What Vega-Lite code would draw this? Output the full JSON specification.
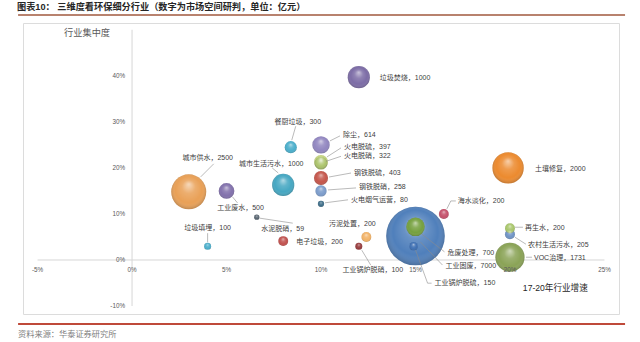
{
  "$schema": "https://vega.github.io/schema/vega-lite/v6.json",
  "width": 596,
  "height": 291,
  "autosize": {"type": "none"},
  "padding": {"left": 23, "top": 23, "right": 21, "bottom": 28},
  "background": "white",
  "config": {
    "view": {"stroke": "#dcdcdc", "strokeWidth": 1},
    "text": {"font": "Liberation Sans, Noto Sans CJK SC", "fontSize": 7, "color": "#404040", "baseline": "middle"}
  },
  "datasets": {
    "bubbles": [
      {"name": "垃圾焚烧", "g": 12.0, "c": 39.7, "v": 1000},
      {"name": "土壤修复", "g": 19.9, "c": 20.0, "v": 2000},
      {"name": "城市供水", "g": 3.0, "c": 14.8, "v": 2500},
      {"name": "工业废水", "g": 5.0, "c": 15.0, "v": 500},
      {"name": "城市生活污水", "g": 8.0, "c": 16.3, "v": 1000},
      {"name": "餐厨垃圾", "g": 8.4, "c": 24.5, "v": 300},
      {"name": "除尘", "g": 10.0, "c": 25.0, "v": 614},
      {"name": "火电脱硫", "g": 10.0, "c": 21.3, "v": 397},
      {"name": "火电脱硝", "g": 10.0, "c": 21.0, "v": 322},
      {"name": "钢铁脱硫", "g": 10.0, "c": 17.8, "v": 403},
      {"name": "钢铁脱硝", "g": 10.0, "c": 15.0, "v": 258},
      {"name": "火电烟气运营", "g": 10.0, "c": 12.2, "v": 80},
      {"name": "垃圾填埋", "g": 4.0, "c": 3.0, "v": 100},
      {"name": "水泥脱硝", "g": 6.6, "c": 9.3, "v": 59},
      {"name": "电子垃圾", "g": 8.0, "c": 4.1, "v": 200},
      {"name": "污泥处置", "g": 12.4, "c": 5.0, "v": 200},
      {"name": "工业锅炉脱硝", "g": 12.0, "c": 3.0, "v": 100},
      {"name": "工业固废", "g": 15.0, "c": 5.2, "v": 7000},
      {"name": "危废处理", "g": 15.0, "c": 7.2, "v": 700},
      {"name": "工业锅炉脱硫", "g": 14.9, "c": 3.0, "v": 150},
      {"name": "海水淡化", "g": 16.5, "c": 10.0, "v": 200},
      {"name": "再生水", "g": 20.0, "c": 6.9, "v": 200},
      {"name": "农村生活污水", "g": 20.0, "c": 5.6, "v": 205},
      {"name": "VOC治理", "g": 20.0, "c": 0.6, "v": 1731}
    ],
    "xticks": [{"t": -5}, {"t": 0}, {"t": 5}, {"t": 10}, {"t": 15}, {"t": 20}, {"t": 25}],
    "yticks": [{"t": -10}, {"t": 0}, {"t": 10}, {"t": 20}, {"t": 30}, {"t": 40}]
  },
  "layer": [
    {
      "data": {"values": [{}]},
      "mark": {"type": "text", "align": "left", "fontSize": 9.2, "fontWeight": "bold", "color": "#262626"},
      "encoding": {
        "x": {"datum": -6.09, "type": "quantitative", "scale": {"domain": [-5.77, 25.77], "nice": false, "zero": false}, "axis": null},
        "y": {"datum": 54.84, "type": "quantitative", "scale": {"domain": [-11.73, 51.47], "nice": false, "zero": false}, "axis": null},
        "text": {"value": "图表10：  三维度看环保细分行业（数字为市场空间研判，单位：亿元）"}
      }
    },
    {
      "data": {"values": [{}]},
      "mark": {"type": "rule", "color": "#a0583e", "strokeWidth": 1.5},
      "encoding": {
        "x": {"datum": -6.03, "type": "quantitative", "scale": {"domain": [-5.77, 25.77], "nice": false, "zero": false}, "axis": null},
        "x2": {"datum": 26.09},
        "y": {"datum": 53.21, "type": "quantitative", "scale": {"domain": [-11.73, 51.47], "nice": false, "zero": false}, "axis": null}
      }
    },
    {
      "data": {"values": [{}]},
      "mark": {"type": "rule", "color": "#bf4a3a", "strokeWidth": 2.2},
      "encoding": {
        "x": {"datum": -6.03, "type": "quantitative", "scale": {"domain": [-5.77, 25.77], "nice": false, "zero": false}, "axis": null},
        "x2": {"datum": 26.09},
        "y": {"datum": -13.9, "type": "quantitative", "scale": {"domain": [-11.73, 51.47], "nice": false, "zero": false}, "axis": null}
      }
    },
    {
      "data": {"values": [{}]},
      "mark": {"type": "text", "align": "left", "fontSize": 8.2, "color": "#808080"},
      "encoding": {
        "x": {"datum": -6.03, "type": "quantitative", "scale": {"domain": [-5.77, 25.77], "nice": false, "zero": false}, "axis": null},
        "y": {"datum": -16.3, "type": "quantitative", "scale": {"domain": [-11.73, 51.47], "nice": false, "zero": false}, "axis": null},
        "text": {"value": "资料来源：华泰证券研究所"}
      }
    },
    {
      "data": {"values": [{}]},
      "mark": {"type": "rule", "color": "#d6d6d6", "strokeWidth": 1},
      "encoding": {
        "x": {"datum": -5, "type": "quantitative", "scale": {"domain": [-5.77, 25.77], "nice": false, "zero": false}, "axis": null},
        "x2": {"datum": 25},
        "y": {"datum": 0, "type": "quantitative", "scale": {"domain": [-11.73, 51.47], "nice": false, "zero": false}, "axis": null}
      }
    },
    {
      "data": {"values": [{}]},
      "mark": {"type": "rule", "color": "#d6d6d6", "strokeWidth": 1},
      "encoding": {
        "x": {"datum": 0, "type": "quantitative", "scale": {"domain": [-5.77, 25.77], "nice": false, "zero": false}, "axis": null},
        "y": {"datum": -10, "type": "quantitative", "scale": {"domain": [-11.73, 51.47], "nice": false, "zero": false}, "axis": null},
        "y2": {"datum": 50}
      }
    },
    {
      "data": {"name": "bubbles"},
      "transform": [{"calculate": "datum.name + '，' + datum.v", "as": "label"}],
      "encoding": {
        "x": {"field": "g", "type": "quantitative", "scale": {"domain": [-5.77, 25.77], "nice": false, "zero": false}, "axis": null},
        "y": {"field": "c", "type": "quantitative", "scale": {"domain": [-11.73, 51.47], "nice": false, "zero": false}, "axis": null}
      },
      "layer": [
        {
          "transform": [{"filter": "datum.v >= 1000"}],
          "encoding": {
            "size": {"field": "v", "type": "quantitative", "scale": {"type": "linear", "domain": [0, 7000], "range": [0, 3436], "zero": true}, "legend": null},
            "order": {"field": "v", "type": "quantitative", "sort": "descending"}
          },
          "layer": [
            {
              "mark": {"type": "point", "filled": true, "opacity": 1, "strokeWidth": 0},
              "encoding": {
                "color": {"field": "name", "type": "nominal", "legend": null,
                  "scale": {
                    "domain": ["垃圾焚烧", "土壤修复", "城市供水", "工业废水", "城市生活污水", "餐厨垃圾", "除尘", "火电脱硫", "火电脱硝", "钢铁脱硫", "钢铁脱硝", "火电烟气运营", "垃圾填埋", "水泥脱硝", "电子垃圾", "污泥处置", "工业锅炉脱硝", "工业固废", "危废处理", "工业锅炉脱硫", "海水淡化", "再生水", "农村生活污水", "VOC治理"],
                    "range": ["#7c6ca6", "#ec8a2e", "#e9a056", "#8170ab", "#45a7c2", "#4aaecb", "#9186c0", "#c3d27e", "#a9c266", "#c4554a", "#7b9ccb", "#3d6d88", "#4aaecb", "#56636f", "#c0504d", "#f2b266", "#963a3c", "#4f7fbb", "#75a03e", "#3c6eb2", "#c4506a", "#a8c66a", "#6f93c4", "#8aa356"]
                  }
                }
              }
            },
            {
              "mark": {"type": "point", "filled": true, "opacity": 1, "strokeWidth": 0,
                "fill": {"gradient": "radial", "x1": 0.5, "y1": 0.28, "r1": 0, "x2": 0.5, "y2": 0.5, "r2": 0.55,
                  "stops": [
                    {"offset": 0, "color": "rgba(255,255,255,0.6)"},
                    {"offset": 0.35, "color": "rgba(255,255,255,0.15)"},
                    {"offset": 0.7, "color": "rgba(255,255,255,0)"},
                    {"offset": 1, "color": "rgba(0,0,0,0.3)"}
                  ]}
              }
            }
          ]
        },
        {
          "transform": [{"filter": "datum.v < 1000"}],
          "encoding": {
            "size": {"field": "v", "type": "quantitative", "scale": {"type": "linear", "domain": [0, 7000], "range": [0, 3436], "zero": true}, "legend": null},
            "order": {"field": "v", "type": "quantitative", "sort": "descending"}
          },
          "layer": [
            {
              "mark": {"type": "point", "filled": true, "opacity": 1, "strokeWidth": 0},
              "encoding": {
                "color": {"field": "name", "type": "nominal", "legend": null}
              }
            },
            {
              "mark": {"type": "point", "filled": true, "opacity": 1, "strokeWidth": 0,
                "fill": {"gradient": "radial", "x1": 0.5, "y1": 0.28, "r1": 0, "x2": 0.5, "y2": 0.5, "r2": 0.55,
                  "stops": [
                    {"offset": 0, "color": "rgba(255,255,255,0.6)"},
                    {"offset": 0.35, "color": "rgba(255,255,255,0.15)"},
                    {"offset": 0.7, "color": "rgba(255,255,255,0)"},
                    {"offset": 1, "color": "rgba(0,0,0,0.3)"}
                  ]}
              }
            }
          ]
        },
        {"transform": [{"filter": "datum.name === '垃圾焚烧'"}], "mark": {"type": "text", "align": "left", "dx": 21, "dy": 1}, "encoding": {"text": {"field": "label", "type": "nominal"}}},
        {"transform": [{"filter": "datum.name === '土壤修复'"}], "mark": {"type": "text", "align": "left", "dx": 27, "dy": 1}, "encoding": {"text": {"field": "label", "type": "nominal"}}},
        {"transform": [{"filter": "datum.name === '电子垃圾'"}], "mark": {"type": "text", "align": "left", "dx": 13, "dy": 1}, "encoding": {"text": {"field": "label", "type": "nominal"}}},
        {"transform": [{"filter": "datum.name === '污泥处置'"}], "mark": {"type": "text", "align": "center", "dx": -14, "dy": -13}, "encoding": {"text": {"field": "label", "type": "nominal"}}},
        {"transform": [{"filter": "datum.name === '城市供水'"}], "layer": [
          {"mark": {"type": "text", "align": "center", "dx": 19, "dy": -34}, "encoding": {"text": {"field": "label", "type": "nominal"}}},
          {"mark": {"type": "point", "shape": "M12,-15L25,-28", "size": 4, "filled": false, "opacity": 1, "color": "#8c8c8c", "strokeWidth": 0.6}}
        ]},
        {"transform": [{"filter": "datum.name === '工业废水'"}], "layer": [
          {"mark": {"type": "text", "align": "center", "dx": 14, "dy": 17}, "encoding": {"text": {"field": "label", "type": "nominal"}}},
          {"mark": {"type": "point", "shape": "M6,6L11,12", "size": 4, "filled": false, "opacity": 1, "color": "#8c8c8c", "strokeWidth": 0.6}}
        ]},
        {"transform": [{"filter": "datum.name === '城市生活污水'"}], "layer": [
          {"mark": {"type": "text", "align": "center", "dx": -12, "dy": -21}, "encoding": {"text": {"field": "label", "type": "nominal"}}},
          {"mark": {"type": "point", "shape": "M-5,-12L-11,-17", "size": 4, "filled": false, "opacity": 1, "color": "#8c8c8c", "strokeWidth": 0.6}}
        ]},
        {"transform": [{"filter": "datum.name === '餐厨垃圾'"}], "layer": [
          {"mark": {"type": "text", "align": "center", "dx": 7, "dy": -25}, "encoding": {"text": {"field": "label", "type": "nominal"}}},
          {"mark": {"type": "point", "shape": "M1,-7L5,-21", "size": 4, "filled": false, "opacity": 1, "color": "#8c8c8c", "strokeWidth": 0.6}}
        ]},
        {"transform": [{"filter": "datum.name === '除尘'"}], "layer": [
          {"mark": {"type": "text", "align": "left", "dx": 22, "dy": -10}, "encoding": {"text": {"field": "label", "type": "nominal"}}},
          {"mark": {"type": "point", "shape": "M9,-4L19,-9", "size": 4, "filled": false, "opacity": 1, "color": "#8c8c8c", "strokeWidth": 0.6}}
        ]},
        {"transform": [{"filter": "datum.name === '火电脱硫'"}], "layer": [
          {"mark": {"type": "text", "align": "left", "dx": 23, "dy": -15}, "encoding": {"text": {"field": "label", "type": "nominal"}}},
          {"mark": {"type": "point", "shape": "M6,-5L20,-14", "size": 4, "filled": false, "opacity": 1, "color": "#8c8c8c", "strokeWidth": 0.6}}
        ]},
        {"transform": [{"filter": "datum.name === '火电脱硝'"}], "layer": [
          {"mark": {"type": "text", "align": "left", "dx": 23, "dy": -7}, "encoding": {"text": {"field": "label", "type": "nominal"}}},
          {"mark": {"type": "point", "shape": "M5,-2L20,-7", "size": 4, "filled": false, "opacity": 1, "color": "#8c8c8c", "strokeWidth": 0.6}}
        ]},
        {"transform": [{"filter": "datum.name === '钢铁脱硫'"}], "layer": [
          {"mark": {"type": "text", "align": "left", "dx": 33, "dy": -5}, "encoding": {"text": {"field": "label", "type": "nominal"}}},
          {"mark": {"type": "point", "shape": "M8,-1L30,-5", "size": 4, "filled": false, "opacity": 1, "color": "#8c8c8c", "strokeWidth": 0.6}}
        ]},
        {"transform": [{"filter": "datum.name === '钢铁脱硝'"}], "layer": [
          {"mark": {"type": "text", "align": "left", "dx": 38, "dy": -4}, "encoding": {"text": {"field": "label", "type": "nominal"}}},
          {"mark": {"type": "point", "shape": "M7,-1L35,-3", "size": 4, "filled": false, "opacity": 1, "color": "#8c8c8c", "strokeWidth": 0.6}}
        ]},
        {"transform": [{"filter": "datum.name === '火电烟气运营'"}], "layer": [
          {"mark": {"type": "text", "align": "left", "dx": 30, "dy": -4}, "encoding": {"text": {"field": "label", "type": "nominal"}}},
          {"mark": {"type": "point", "shape": "M4,-1L27,-4", "size": 4, "filled": false, "opacity": 1, "color": "#8c8c8c", "strokeWidth": 0.6}}
        ]},
        {"transform": [{"filter": "datum.name === '垃圾填埋'"}], "layer": [
          {"mark": {"type": "text", "align": "center", "dx": 0, "dy": -18}, "encoding": {"text": {"field": "label", "type": "nominal"}}},
          {"mark": {"type": "point", "shape": "M0,-4L0,-13", "size": 4, "filled": false, "opacity": 1, "color": "#8c8c8c", "strokeWidth": 0.6}}
        ]},
        {"transform": [{"filter": "datum.name === '水泥脱硝'"}], "layer": [
          {"mark": {"type": "text", "align": "center", "dx": 26, "dy": 12}, "encoding": {"text": {"field": "label", "type": "nominal"}}},
          {"mark": {"type": "point", "shape": "M3,1L36,6", "size": 4, "filled": false, "opacity": 1, "color": "#8c8c8c", "strokeWidth": 0.6}}
        ]},
        {"transform": [{"filter": "datum.name === '工业锅炉脱硝'"}], "layer": [
          {"mark": {"type": "text", "align": "center", "dx": 14, "dy": 24}, "encoding": {"text": {"field": "label", "type": "nominal"}}},
          {"mark": {"type": "point", "shape": "M3,4L12,19", "size": 4, "filled": false, "opacity": 1, "color": "#8c8c8c", "strokeWidth": 0.6}}
        ]},
        {"transform": [{"filter": "datum.name === '工业固废'"}], "layer": [
          {"mark": {"type": "text", "align": "left", "dx": 30, "dy": 30}, "encoding": {"text": {"field": "label", "type": "nominal"}}},
          {"mark": {"type": "point", "shape": "M5,6L27,29", "size": 4, "filled": false, "opacity": 1, "color": "#8c8c8c", "strokeWidth": 0.6}}
        ]},
        {"transform": [{"filter": "datum.name === '危废处理'"}], "layer": [
          {"mark": {"type": "text", "align": "left", "dx": 32, "dy": 26}, "encoding": {"text": {"field": "label", "type": "nominal"}}},
          {"mark": {"type": "point", "shape": "M6,7L29,25", "size": 4, "filled": false, "opacity": 1, "color": "#8c8c8c", "strokeWidth": 0.6}}
        ]},
        {"transform": [{"filter": "datum.name === '工业锅炉脱硫'"}], "layer": [
          {"mark": {"type": "text", "align": "left", "dx": 21, "dy": 37}, "encoding": {"text": {"field": "label", "type": "nominal"}}},
          {"mark": {"type": "point", "shape": "M2,4L14,37L18,37", "size": 4, "filled": false, "opacity": 1, "color": "#8c8c8c", "strokeWidth": 0.6}}
        ]},
        {"transform": [{"filter": "datum.name === '海水淡化'"}], "layer": [
          {"mark": {"type": "text", "align": "left", "dx": 14, "dy": -13}, "encoding": {"text": {"field": "label", "type": "nominal"}}},
          {"mark": {"type": "point", "shape": "M3,-5L7,-13L12,-13", "size": 4, "filled": false, "opacity": 1, "color": "#8c8c8c", "strokeWidth": 0.6}}
        ]},
        {"transform": [{"filter": "datum.name === '再生水'"}], "layer": [
          {"mark": {"type": "text", "align": "left", "dx": 15, "dy": 0}, "encoding": {"text": {"field": "label", "type": "nominal"}}},
          {"mark": {"type": "point", "shape": "M5,-1L13,-1", "size": 4, "filled": false, "opacity": 1, "color": "#8c8c8c", "strokeWidth": 0.6}}
        ]},
        {"transform": [{"filter": "datum.name === '农村生活污水'"}], "layer": [
          {"mark": {"type": "text", "align": "left", "dx": 18, "dy": 11}, "encoding": {"text": {"field": "label", "type": "nominal"}}},
          {"mark": {"type": "point", "shape": "M5,3L16,10", "size": 4, "filled": false, "opacity": 1, "color": "#8c8c8c", "strokeWidth": 0.6}}
        ]},
        {"transform": [{"filter": "datum.name === 'VOC治理'"}], "layer": [
          {"mark": {"type": "text", "align": "left", "dx": 24, "dy": 1}, "encoding": {"text": {"field": "label", "type": "nominal"}}},
          {"mark": {"type": "point", "shape": "M16,0L22,0", "size": 4, "filled": false, "opacity": 1, "color": "#8c8c8c", "strokeWidth": 0.6}}
        ]}
      ]
    },
    {
      "data": {"name": "xticks"},
      "transform": [{"calculate": "datum.t + '%'", "as": "lab"}],
      "mark": {"type": "text", "align": "center", "dy": 10, "fontSize": 6.3, "color": "#595959"},
      "encoding": {
        "x": {"field": "t", "type": "quantitative", "scale": {"domain": [-5.77, 25.77], "nice": false, "zero": false}, "axis": null},
        "y": {"datum": 0, "type": "quantitative", "scale": {"domain": [-11.73, 51.47], "nice": false, "zero": false}, "axis": null},
        "text": {"field": "lab", "type": "nominal"}
      }
    },
    {
      "data": {"name": "yticks"},
      "transform": [{"calculate": "datum.t + '%'", "as": "lab"}],
      "mark": {"type": "text", "align": "right", "dx": -7, "fontSize": 6.3, "color": "#595959"},
      "encoding": {
        "x": {"datum": 0, "type": "quantitative", "scale": {"domain": [-5.77, 25.77], "nice": false, "zero": false}, "axis": null},
        "y": {"field": "t", "type": "quantitative", "scale": {"domain": [-11.73, 51.47], "nice": false, "zero": false}, "axis": null},
        "text": {"field": "lab", "type": "nominal"}
      }
    },
    {
      "data": {"values": [{}]},
      "mark": {"type": "text", "align": "center", "fontSize": 9.2, "color": "#595959"},
      "encoding": {
        "x": {"datum": -2.38, "type": "quantitative", "scale": {"domain": [-5.77, 25.77], "nice": false, "zero": false}, "axis": null},
        "y": {"datum": 49.3, "type": "quantitative", "scale": {"domain": [-11.73, 51.47], "nice": false, "zero": false}, "axis": null},
        "text": {"value": "行业集中度"}
      }
    },
    {
      "data": {"values": [{}]},
      "mark": {"type": "text", "align": "center", "fontSize": 8.6, "color": "#262626"},
      "encoding": {
        "x": {"datum": 22.4, "type": "quantitative", "scale": {"domain": [-5.77, 25.77], "nice": false, "zero": false}, "axis": null},
        "y": {"datum": -6.08, "type": "quantitative", "scale": {"domain": [-11.73, 51.47], "nice": false, "zero": false}, "axis": null},
        "text": {"value": "17-20年行业增速"}
      }
    }
  ]
}
